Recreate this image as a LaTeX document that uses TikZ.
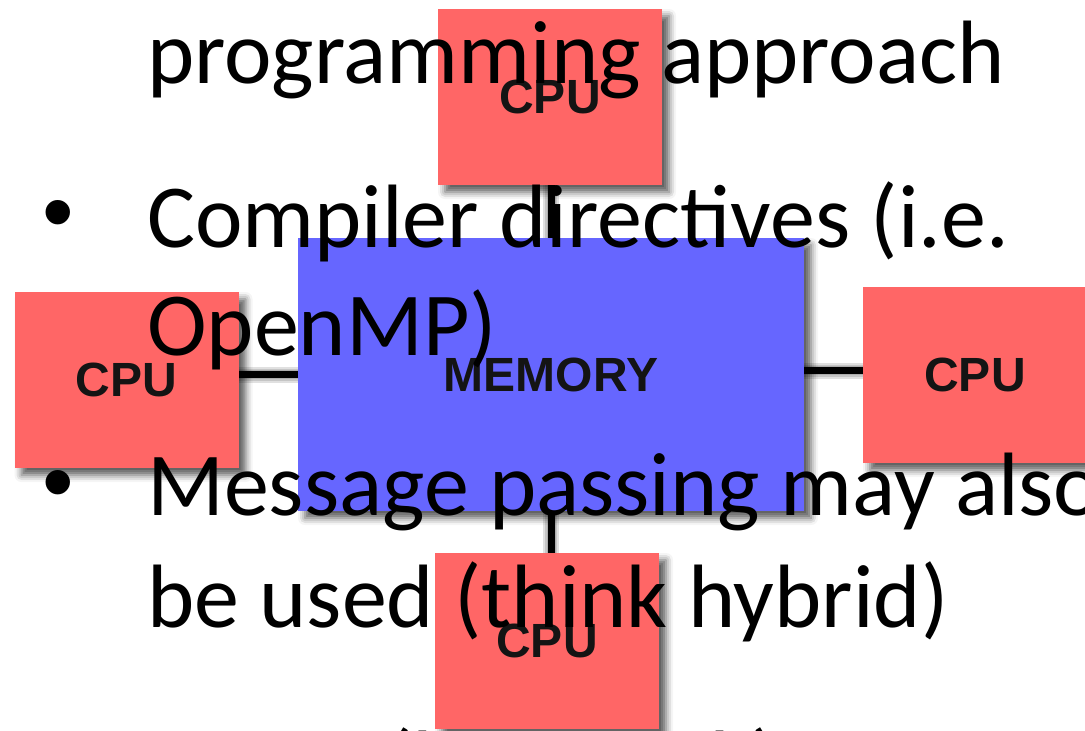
\documentclass[tikz,border=0pt]{standalone}
\usepackage{fontspec}
\setmainfont{Carlito}
\newfontfamily\labelfont{Liberation Sans}
\usetikzlibrary{shadows.blur,backgrounds}
\definecolor{cpured}{HTML}{FF6666}
\definecolor{memblue}{HTML}{6666FF}
\begin{document}
\begin{tikzpicture}[x=1pt,y=-1pt,
  unitshadow/.style={blur shadow={shadow xshift=7pt,shadow yshift=-7pt,shadow blur radius=7pt,shadow opacity=65}},
  unit/.style={rectangle, inner sep=0pt, text=black!92,
    font=\labelfont\bfseries\fontsize{48}{48}\selectfont, unitshadow},
  cpu/.style={unit, fill=cpured, minimum width=224pt, minimum height=176pt},
  mem/.style={unit, fill=memblue, minimum width=506pt, minimum height=273pt},
  bus/.style={line width=7pt, black},
  busshade/.style={line width=#1, black, opacity=0.12},
  slidetext/.style={anchor=base west, inner sep=0pt, font=\fontsize{90}{108}\selectfont},
  bulletmark/.style={anchor=base west, inner sep=0pt, font=\labelfont\fontsize{90}{108}\selectfont}]
\useasboundingbox (0,0) rectangle (1085,731);

% memory and the four processors
\node[mem] (mem) at (551,374.5) {MEMORY};
\node[cpu] (cpuT) at (550,97) {CPU};
\node[cpu] (cpuL) at (126.5,380) {CPU};
\node[cpu] (cpuR) at (975,375) {CPU};
\node[cpu] (cpuB) at (547,641) {CPU};

% soft shadows under the buses
\begin{scope}[on background layer, shift={(6pt,-7pt)}]
  \foreach \w in {16pt,12pt,9pt}{
    \draw[busshade=\w] (mem.west) -- (mem.west -| cpuL.east);
    \draw[busshade=\w] ([yshift=4pt]mem.east) -- ([yshift=4pt]mem.east -| cpuR.west);
    \draw[busshade=\w] (mem.north) -- (mem.north |- cpuT.south);
    \draw[busshade=\w] (mem.south) -- (mem.south |- cpuB.north);
  }
\end{scope}

% buses
\draw[bus] (mem.west) -- (mem.west -| cpuL.east);
\draw[bus] ([yshift=4pt]mem.east) -- ([yshift=4pt]mem.east -| cpuR.west);
\draw[bus] (mem.north) -- (mem.north |- cpuT.south);
\draw[bus] (mem.south) -- (mem.south |- cpuB.north);

% bullet text set over the figure
\node[slidetext] (l1) at (147,83) {programming approach};
\node[bulletmark] (b2) at (42,242) {•};
\node[slidetext] (l2) at (147,247) {Compiler directives (i.e.};
\node[slidetext] (l3) at (147,355) {OpenMP)};
\node[bulletmark] (b4) at (42,512) {•};
\node[slidetext] (l4) at (147,515) {Message passing may also};
\node[slidetext] (l5) at (147,627) {be used (think hybrid)};
\node[slidetext] (l6) at (147,793) {Easier (less work)};
\end{tikzpicture}
\end{document}
